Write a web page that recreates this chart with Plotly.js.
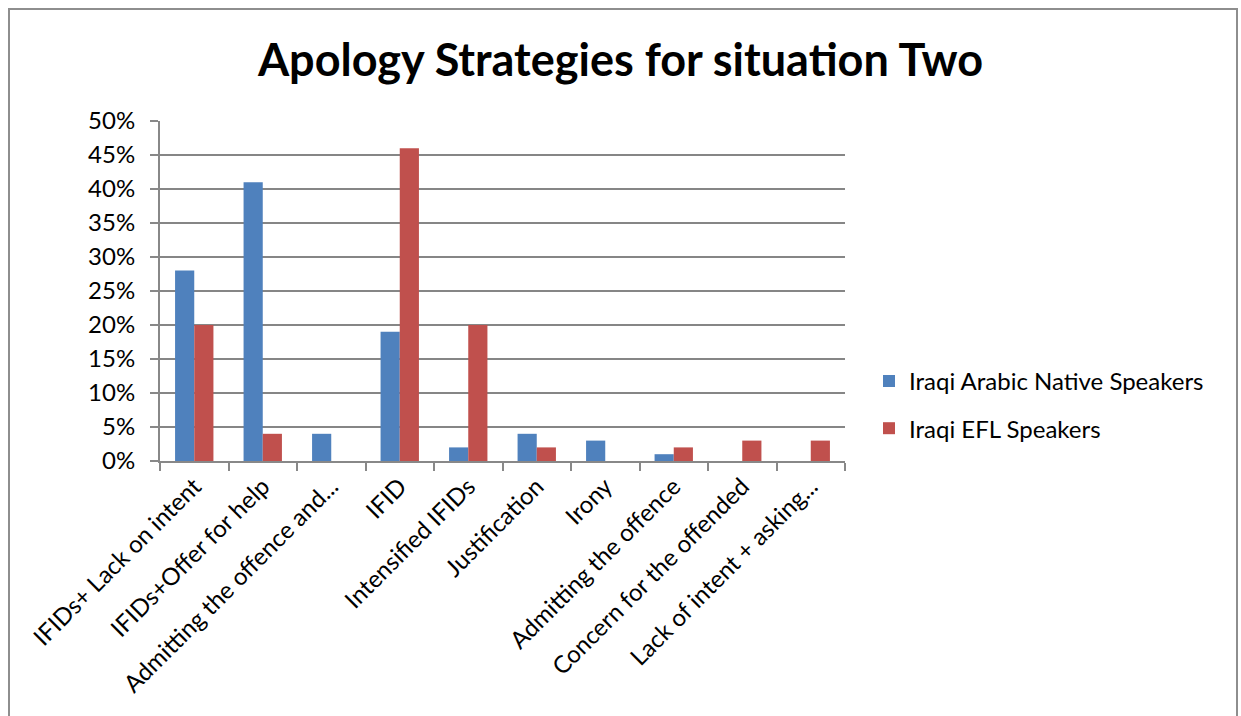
<!DOCTYPE html>
<html>
<head>
<meta charset="utf-8">
<script src="https://cdn.plot.ly/plotly-3.0.1.min.js"></script>
<style>
html,body{margin:0;padding:0;background:#fff;overflow:hidden;}
#frame{position:absolute;left:8px;top:8px;width:1230px;height:760px;border:2px solid #8e8e8e;border-bottom:none;box-sizing:border-box;pointer-events:none;z-index:5;}
#chart{position:absolute;left:0;top:0;width:1241px;height:716px;}
</style>
</head>
<body>
<div id="chart"></div>
<div id="frame"></div>
<script>
const categories = [
  "IFIDs+ Lack on intent",
  "IFIDs+Offer for help",
  "Admitting the offence and...",
  "IFID",
  "Intensified IFIDs",
  "Justification",
  "Irony",
  "Admitting the offence",
  "Concern for the offended",
  "Lack of intent + asking..."
];
const nativeSpeakers = [0.28, 0.41, 0.04, 0.19, 0.02, 0.04, 0.03, 0.01, 0, 0];
const eflSpeakers    = [0.20, 0.04, 0, 0.46, 0.20, 0.02, 0, 0.02, 0.03, 0.03];
const seriesNames = ["Iraqi Arabic Native Speakers", "Iraqi EFL Speakers"];
const yTicks = [0, 0.05, 0.10, 0.15, 0.20, 0.25, 0.30, 0.35, 0.40, 0.45, 0.50];

const FONT = "Lato, 'Open Sans', sans-serif";
const FS = 24;

const traces = [
  {type:'bar', name:seriesNames[0], x:categories, y:nativeSpeakers,
   marker:{color:'#4f81bd'}, legendgroup:'a'},
  {type:'bar', name:seriesNames[1], x:categories, y:eflSpeakers,
   marker:{color:'#c0504d'}, legendgroup:'b'}
];

const layout = {
  width:1241, height:716,
  margin:{l:160, r:396, t:121, b:255},
  paper_bgcolor:'rgba(0,0,0,0)', plot_bgcolor:'rgba(0,0,0,0)',
  barmode:'group', bargap:0.44, bargroupgap:0,
  title:{text:'<b>Apology Strategies for situation Two</b>', x:0.5, xref:'container', xanchor:'center',
         y:62, yref:'container', yanchor:'middle',
         font:{family:FONT, size:45, color:'#000'}},
  font:{family:FONT, size:FS, color:'#000'},
  showlegend:true,
  legend:{x:1.035, xanchor:'left', y:0.165, yanchor:'middle', font:{family:FONT, size:FS, color:'#000'},
          tracegroupgap:13, bgcolor:'rgba(0,0,0,0)'},
  xaxis:{type:'category', tickson:'boundaries', ticks:'outside', ticklen:8, tickwidth:2, tickcolor:'#888',
         showline:true, linecolor:'#888', linewidth:2, tickangle:-45, showgrid:false,
         tickfont:{family:FONT, size:FS, color:'#000'}, automargin:false},
  yaxis:{range:[0,0.5], tickvals:yTicks, tickformat:'.0%', ticks:'outside', ticklen:8, tickwidth:2, tickcolor:'#888',
         ticklabelstandoff:10,
         showline:true, linecolor:'#888', linewidth:2, showgrid:true, gridcolor:'#868686', gridwidth:2,
         zeroline:false, tickfont:{family:FONT, size:FS, color:'#000'}, automargin:false}
};

Plotly.newPlot('chart', traces, layout, {displayModeBar:false, staticPlot:true});
</script>
</body>
</html>
